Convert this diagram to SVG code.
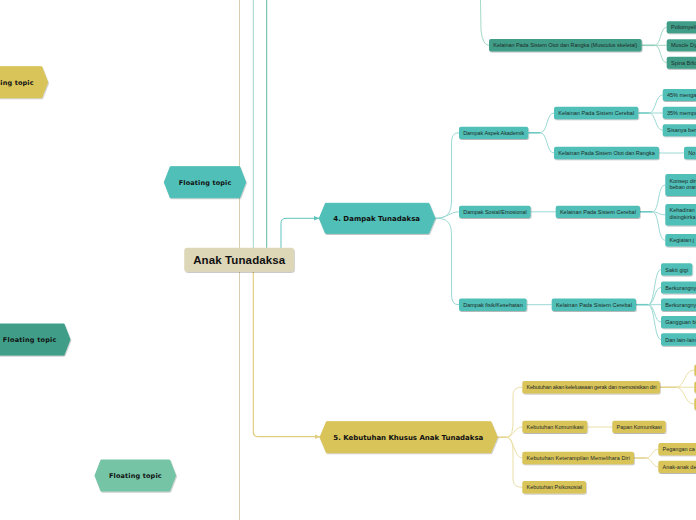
<svg xmlns="http://www.w3.org/2000/svg" width="696" height="520" viewBox="0 0 696 520">
<defs>
<filter id="sh" x="-20%" y="-30%" width="140%" height="170%"><feDropShadow dx="0.6" dy="1" stdDeviation="0.6" flood-color="#000" flood-opacity="0.28"/></filter>
<marker id="at" viewBox="0 0 6 6" refX="5.5" refY="3" markerWidth="6" markerHeight="6" markerUnits="userSpaceOnUse" orient="auto"><path d="M0,0.5 L6,3 L0,5.5 Z" fill="#5fc4bd"/></marker>
<marker id="ay" viewBox="0 0 6 6" refX="5.5" refY="3" markerWidth="6" markerHeight="6" markerUnits="userSpaceOnUse" orient="auto"><path d="M0,0.5 L6,3 L0,5.5 Z" fill="#e0cf80"/></marker>
</defs>
<style>
.t{font-family:"Liberation Sans",Arial,sans-serif;font-size:5.5px;fill:#1f2a28}
.h{font-family:"DejaVu Sans",Verdana,sans-serif;font-weight:bold;font-size:7px;fill:#111;text-anchor:middle}
.f{font-family:"DejaVu Sans",Verdana,sans-serif;font-weight:bold;font-size:6.5px;fill:#111;text-anchor:middle}
.n{fill:#50bfb7;filter:url(#sh)}
.d{fill:#3f9e88;filter:url(#sh)}
.y{fill:#d9c45a;filter:url(#sh)}
.ct{fill:none;stroke:#9ad9d4;stroke-width:1}
.cts{fill:none;stroke:#6ccac3;stroke-width:1.6}
.cg{fill:none;stroke:#a3d8c8;stroke-width:1}
.cgs{fill:none;stroke:#8fcfbb;stroke-width:1.6}
.cy{fill:none;stroke:#ebdfa6;stroke-width:1}
.cys{fill:none;stroke:#e3d48f;stroke-width:1.6}
</style>
<rect width="696" height="520" fill="#ffffff"/>
<g id="connectors">
<path d="M239.5,0 V520" stroke="#d9cfb0" stroke-width="1" fill="none"/>
<path d="M253.3,0 V248" stroke="#9fd8cb" stroke-width="1" fill="none"/>
<path d="M266.7,0 V248" stroke="#62b9a3" stroke-width="1" fill="none"/>
<path d="M281,248 V223.3 Q281,218.3 286,218.3 H319" stroke="#5fc4bd" stroke-width="1" fill="none" marker-end="url(#at)"/>
<path d="M253.3,272 V431.7 Q253.3,436.7 258.3,436.7 H320" stroke="#e0cf80" stroke-width="1.2" fill="none" marker-end="url(#ay)"/>
<path class="cg" d="M480.5,0 L481,30 Q482.5,45.3 489,45.3"/>
<path class="cgs" d="M641.7,45.3 H655"/>
<path class="cg" d="M655,45.3 C661,45.3 660,27.3 666.7,27.3"/>
<path class="cg" d="M655,45.3 H666.7"/>
<path class="cg" d="M655,45.3 C661,45.3 660,62.8 666.7,62.8"/>
<path class="ct" d="M435,218.3 C447,218.3 451.5,214 451.5,200 V145 C451.5,136 453,132.8 459,132.8"/>
<path class="ct" d="M435,218.3 C447,218.3 450,211.8 459,211.8"/>
<path class="ct" d="M435,218.3 C447,218.3 451.5,222 451.5,236 V292 C451.5,301 453,304.7 459,304.7"/>
<path class="cts" d="M528.3,132.8 H540"/>
<path class="ct" d="M540,132.8 C548,132.8 546,113 554,113"/>
<path class="ct" d="M540,132.8 C548,132.8 546,153 554,153"/>
<path class="cts" d="M638.3,113 H649"/>
<path class="ct" d="M649,113 C656,113 655,95 662.7,95"/>
<path class="ct" d="M649,113 H662.7"/>
<path class="ct" d="M649,113 C656,113 655,130.2 662.7,130.2"/>
<path class="ct" d="M659,153 H684"/>
<path class="ct" d="M530.7,211.8 H555.7"/>
<path class="cts" d="M640,211.8 H652"/>
<path class="ct" d="M652,211.8 C660,211.8 657,185 665.3,185"/>
<path class="ct" d="M652,211.8 C659,211.8 658,214.8 665.3,214.8"/>
<path class="ct" d="M652,211.8 C660,211.8 657,240.3 665.3,240.3"/>
<path class="ct" d="M526.7,304.7 H551.7"/>
<path class="cts" d="M636,304.7 H648"/>
<path class="ct" d="M648,304.7 C655,304.7 654,269.5 661,269.5"/>
<path class="ct" d="M648,304.7 C655,304.7 654,287.5 661,287.5"/>
<path class="ct" d="M648,304.7 H661"/>
<path class="ct" d="M648,304.7 C655,304.7 654,322 661,322"/>
<path class="ct" d="M648,304.7 C655,304.7 654,339.5 661,339.5"/>
<path class="cys" d="M497.3,437.2 H506"/>
<path class="cy" d="M506,437.2 C512,437.2 513,430 513,420 V397 C513,390 515,387.2 522.3,387.2"/>
<path class="cy" d="M506,437.2 C514,437.2 514,427 522.3,427"/>
<path class="cy" d="M506,437.2 C514,437.2 514,458 522.3,458"/>
<path class="cy" d="M506,437.2 C512,437.2 513,444 513,455 V477 C513,484 515,487.2 522.3,487.2"/>
<path class="cys" d="M660,387.2 H676"/>
<path class="cy" d="M676,387.2 C685,387.2 684,370 694.3,370"/>
<path class="cy" d="M676,387.2 H694.3"/>
<path class="cy" d="M676,387.2 C685,387.2 684,404 694.3,404"/>
<path class="cy" d="M587.3,427 H612.3"/>
<path class="cys" d="M634,458 H646"/>
<path class="cy" d="M646,458 C652,458 652,449.2 658.3,449.2"/>
<path class="cy" d="M646,458 C652,458 652,466.8 658.3,466.8"/>
</g>
<g id="floating-yellow"><polygon points="-33.3,82.2 -27.3,66.7 41.7,66.7 47.7,82.2 41.7,97.7 -27.3,97.7" fill="#d9c45a" stroke="#d9c45a" stroke-linejoin="round" filter="url(#sh)"/><text class="f" x="7.2" y="85" textLength="52.7">Floating topic</text></g>
<g id="floating-teal"><polygon points="164.3,182.2 170.3,166.7 239.7,166.7 245.7,182.2 239.7,197.7 170.3,197.7" fill="#50bfb7" stroke="#50bfb7" stroke-linejoin="round" filter="url(#sh)"/><text class="f" x="205" y="185" textLength="52.7">Floating topic</text></g>
<g id="floating-green"><polygon points="-11,339.5 -5,324 64,324 70,339.5 64,355 -5,355" fill="#3f9e88" stroke="#3f9e88" stroke-linejoin="round" filter="url(#sh)"/><text class="f" x="29.6" y="342.3" textLength="53.5">Floating topic</text></g>
<g id="floating-light"><polygon points="95,475.5 101,460 169.7,460 175.7,475.5 169.7,491 101,491" fill="#75c4a6" stroke="#75c4a6" stroke-linejoin="round" filter="url(#sh)"/><text class="f" x="135.3" y="478.3" textLength="52.7">Floating topic</text></g>
<g id="central"><rect x="184.3" y="247.7" width="109.7" height="24" rx="3" fill="#ddd6b7" filter="url(#sh)"/><text x="239.2" y="264" text-anchor="middle" font-family="Liberation Sans, Arial, sans-serif" font-weight="bold" font-size="11.5" fill="#111" textLength="92">Anak Tunadaksa</text></g>
<g id="dampak"><polygon points="319.3,218.3 325.5,203.3 428.8,203.3 435,218.3 428.8,233.3 325.5,233.3" fill="#50bfb7" stroke="#50bfb7" stroke-linejoin="round" filter="url(#sh)"/><text class="h" x="376.7" y="220.8" textLength="86.7">4. Dampak Tunadaksa</text></g>
<g id="kebutuhan"><polygon points="320,437.2 326.5,421.7 490.8,421.7 497.3,437.2 490.8,452.7 326.5,452.7" fill="#d9c45a" stroke="#d9c45a" stroke-linejoin="round" filter="url(#sh)"/><text class="h" x="408.3" y="440" textLength="150">5. Kebutuhan Khusus Anak Tunadaksa</text></g>
<g id="musculus"><rect class="d" x="489" y="39" width="152.7" height="12.5" rx="2"/><text class="t" x="493.3" y="47.2" textLength="144">Kelainan Pada Sistem Otot dan Rangka (Musculus skeletal)</text></g>
<g id="polio"><rect class="d" x="666.7" y="21.3" width="40" height="12" rx="2"/><text class="t" x="671" y="29.3">Poliomyeli</text></g>
<g id="muscle-dy"><rect class="d" x="666.7" y="39.3" width="40" height="12" rx="2"/><text class="t" x="671" y="47.3">Muscle Dy</text></g>
<g id="spina"><rect class="d" x="666.7" y="56.8" width="40" height="12" rx="2"/><text class="t" x="671" y="64.8">Spina Bifid</text></g>
<g id="aspek"><rect class="n" x="459" y="126.7" width="69.3" height="12.3" rx="2"/><text class="t" x="463.2" y="134.8" textLength="61">Dampak Aspek Akademik</text></g>
<g id="cerebal1"><rect class="n" x="554" y="106.8" width="84.3" height="12.4" rx="2"/><text class="t" x="558.2" y="115" textLength="76">Kelainan Pada Sistem Cerebal</text></g>
<g id="p45"><rect class="n" x="662.7" y="89" width="40" height="12" rx="2"/><text class="t" x="667" y="97">45% menga</text></g>
<g id="p35"><rect class="n" x="662.7" y="106.8" width="40" height="12" rx="2"/><text class="t" x="667" y="114.8">35% mempu</text></g>
<g id="sisanya"><rect class="n" x="662.7" y="124.2" width="40" height="12" rx="2"/><text class="t" x="667" y="132.2">Sisanya ber</text></g>
<g id="otot"><rect class="n" x="554" y="146.8" width="105" height="12.4" rx="2"/><text class="t" x="558.2" y="155" textLength="96.5">Kelainan Pada Sistem Otot dan Rangka</text></g>
<g id="no"><rect class="n" x="684" y="146.8" width="20" height="12.4" rx="2"/><text class="t" x="688.3" y="155">No</text></g>
<g id="sosial"><rect class="n" x="459" y="205.7" width="71.7" height="12.3" rx="2"/><text class="t" x="463.2" y="213.8" textLength="63.5">Dampak Sosial/Emosional</text></g>
<g id="cerebal2"><rect class="n" x="555.7" y="205.7" width="84.3" height="12.3" rx="2"/><text class="t" x="559.9" y="213.8" textLength="76">Kelainan Pada Sistem Cerebal</text></g>
<g id="konsep"><rect class="n" x="665.3" y="174" width="40" height="22" rx="2"/><text class="t" x="669.5" y="182.5">Konsep diri n</text><text class="t" x="669.5" y="189">beban oran</text></g>
<g id="kehadiran"><rect class="n" x="665.3" y="204" width="40" height="21.5" rx="2"/><text class="t" x="669.5" y="212">Kehadiran</text><text class="t" x="669.5" y="218.5">disingkirka</text></g>
<g id="kegiatan"><rect class="n" x="665.3" y="234" width="40" height="12.5" rx="2"/><text class="t" x="669.5" y="242.3">Kegiatan j</text></g>
<g id="fisik"><rect class="n" x="459" y="298.5" width="67.7" height="12.4" rx="2"/><text class="t" x="463.2" y="306.7" textLength="59.5">Dampak fisik/Kesehatan</text></g>
<g id="cerebal3"><rect class="n" x="551.7" y="298.5" width="84.3" height="12.4" rx="2"/><text class="t" x="555.9" y="306.7" textLength="76">Kelainan Pada Sistem Cerebal</text></g>
<g id="sakit"><rect class="n" x="661" y="263.3" width="31.3" height="12.3" rx="2"/><text class="t" x="665.2" y="271.5" textLength="23">Sakit gigi</text></g>
<g id="berk1"><rect class="n" x="661" y="281.4" width="40" height="12.2" rx="2"/><text class="t" x="665.2" y="289.5">Berkurangny</text></g>
<g id="berk2"><rect class="n" x="661" y="298.5" width="40" height="12.4" rx="2"/><text class="t" x="665.2" y="306.7">Berkurangny</text></g>
<g id="gangguan"><rect class="n" x="661" y="316" width="40" height="12.3" rx="2"/><text class="t" x="665.2" y="324.1">Gangguan bi</text></g>
<g id="danlain"><rect class="n" x="661" y="333.3" width="40" height="12.4" rx="2"/><text class="t" x="665.2" y="341.5">Dan lain-lain</text></g>
<g id="keleluasaan"><rect class="y" x="522.3" y="381" width="137.7" height="12.4" rx="2"/><text class="t" x="526.5" y="389.2" textLength="130">Kebutuhan akan keleluasaan gerak dan memosisikan diri</text></g>
<g id="kel1"><rect class="y" x="694.3" y="364.5" width="10" height="11.5" rx="2"/></g>
<g id="kel2"><rect class="y" x="694.3" y="381.5" width="10" height="11.5" rx="2"/></g>
<g id="kel3"><rect class="y" x="694.3" y="398" width="10" height="12" rx="2"/></g>
<g id="komunikasi"><rect class="y" x="522.3" y="420.7" width="65" height="12.4" rx="2"/><text class="t" x="526.5" y="428.9" textLength="57">Kebutuhan Komunikasi</text></g>
<g id="papan"><rect class="y" x="612.3" y="420.7" width="53.4" height="12.4" rx="2"/><text class="t" x="616.5" y="428.9" textLength="45.3">Papan Komunikasi</text></g>
<g id="keterampilan"><rect class="y" x="522.3" y="451.8" width="111.7" height="12.4" rx="2"/><text class="t" x="526.5" y="460" textLength="103.5">Kebutuhan Keterampilan Memelihara Diri</text></g>
<g id="pegangan"><rect class="y" x="658.3" y="443.1" width="45" height="12.2" rx="2"/><text class="t" x="662.5" y="451.2">Pegangan ca</text></g>
<g id="anakanak"><rect class="y" x="658.3" y="460.7" width="45" height="12.2" rx="2"/><text class="t" x="662.5" y="468.8">Anak-anak de</text></g>
<g id="psikososial"><rect class="y" x="522.3" y="481" width="63.7" height="12.4" rx="2"/><text class="t" x="526.5" y="489.2" textLength="55.5">Kebutuhan Psikososial</text></g>
</svg>
